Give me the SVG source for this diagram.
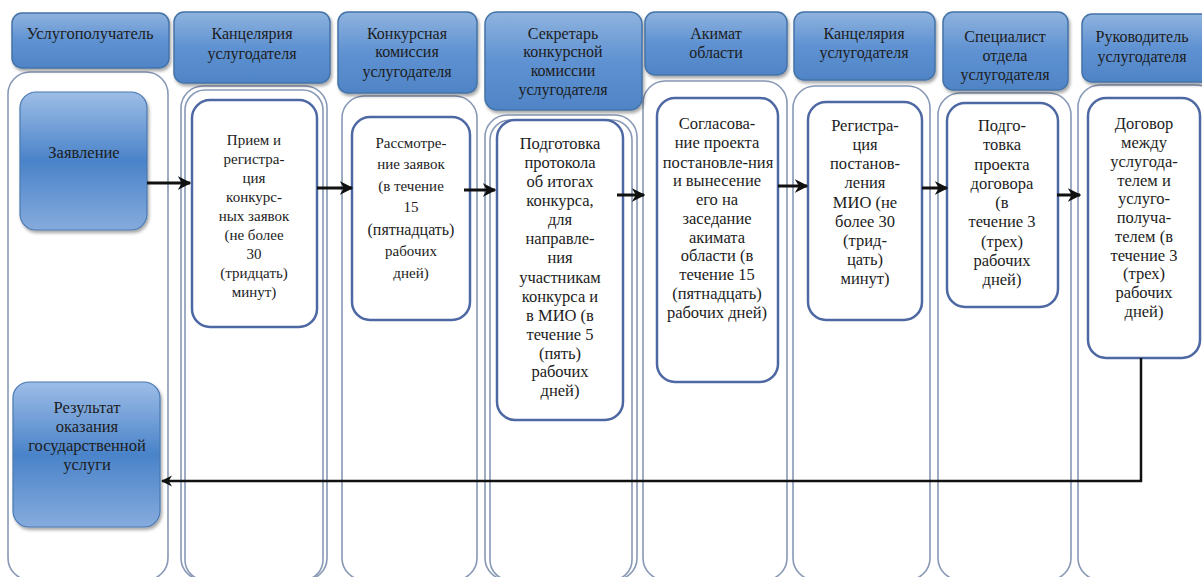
<svg xmlns="http://www.w3.org/2000/svg" width="1202" height="577" viewBox="0 0 1202 577">
<defs>
<linearGradient id="hdr" x1="0" y1="0" x2="0" y2="1">
<stop offset="0" stop-color="#8fb3de"/>
<stop offset="0.5" stop-color="#5f92d2"/>
<stop offset="1" stop-color="#4f84c6"/>
</linearGradient>
<linearGradient id="blk" x1="0" y1="0" x2="0" y2="1">
<stop offset="0" stop-color="#9dbde6"/>
<stop offset="0.5" stop-color="#4a83c9"/>
<stop offset="1" stop-color="#86abdd"/>
</linearGradient>
<filter id="sh" x="-10%" y="-10%" width="125%" height="130%">
<feDropShadow dx="1.5" dy="2.5" stdDeviation="1.5" flood-color="#000" flood-opacity="0.35"/>
</filter>
<marker id="ah" viewBox="0 0 10 10" refX="9" refY="5" markerWidth="4.5" markerHeight="4.5" orient="auto">
<path d="M0,0 L10,5 L0,10 L3,5 z" fill="#111"/>
</marker>
<style>
.hdr{fill:url(#hdr);stroke:#4473a8;stroke-width:1.5;filter:url(#sh)}
.lane{fill:#fff;stroke:#8899b6;stroke-width:1.6}
.box{fill:#fff;stroke:#4e68a3;stroke-width:2.5}
.blk{fill:url(#blk);stroke:#4a78b0;stroke-width:1.2;filter:url(#sh)}
text{font-family:"Liberation Serif","Times New Roman",serif;fill:#1c1c1c;text-anchor:middle;dominant-baseline:central}
.h{font-size:16px}
.b{font-size:16.5px}
.s{font-size:15px}
.t{font-size:16.5px}
.c{stroke:#111;stroke-width:3;fill:none;marker-end:url(#ah)}
</style>
</defs>
<rect width="1202" height="577" fill="#fff"/>

<g id="lanes">
<rect class="lane" x="8" y="72" width="160" height="508" rx="22"/>
<rect class="lane" x="181" y="86" width="146" height="494" rx="22"/>
<rect class="lane" x="185" y="90" width="138" height="490" rx="20"/>
<rect class="lane" x="342" y="96" width="135" height="484" rx="22"/>
<rect class="lane" x="485" y="115" width="152" height="465" rx="22"/>
<rect class="lane" x="490" y="120" width="142" height="460" rx="20"/>
<rect class="lane" x="643" y="81" width="144" height="499" rx="22"/>
<rect class="lane" x="793" y="86" width="137" height="494" rx="22"/>
<rect class="lane" x="938" y="93" width="133" height="487" rx="22"/>
<rect class="lane" x="1078" y="85" width="140" height="495" rx="22"/>
</g>

<g id="h1"><rect class="hdr" x="12" y="13" width="157" height="55" rx="10"/><text class="h" x="90" y="33" style="font-size:16.5px">Услугополучатель</text></g>
<g id="h2"><rect class="hdr" x="174" y="12" width="156" height="71" rx="10"/><text class="h" x="252" y="33">Канцелярия</text><text class="h" x="252" y="53">услугодателя</text></g>
<g id="h3"><rect class="hdr" x="338" y="12" width="139" height="81" rx="10"/><text class="h" x="407" y="33">Конкурсная</text><text class="h" x="407" y="51">комиссия</text><text class="h" x="407" y="71">услугодателя</text></g>
<g id="h4"><rect class="hdr" x="485" y="12" width="157" height="98" rx="12"/><text class="h" x="563" y="33">Секретарь</text><text class="h" x="563" y="51">конкурсной</text><text class="h" x="563" y="70">комиссии</text><text class="h" x="563" y="89">услугодателя</text></g>
<g id="h5"><rect class="hdr" x="645" y="12" width="142" height="63" rx="10"/><text class="h" x="716" y="33">Акимат</text><text class="h" x="716" y="52">области</text></g>
<g id="h6"><rect class="hdr" x="794" y="12" width="141" height="68" rx="10"/><text class="h" x="864" y="33">Канцелярия</text><text class="h" x="864" y="52">услугодателя</text></g>
<g id="h7"><rect class="hdr" x="943" y="12" width="125" height="78" rx="10"/><text class="h" x="1005" y="36">Специалист</text><text class="h" x="1005" y="55">отдела</text><text class="h" x="1005" y="74">услугодателя</text></g>
<g id="h8"><rect class="hdr" x="1082" y="14" width="130" height="68" rx="10"/><text class="h" x="1142" y="36">Руководитель</text><text class="h" x="1142" y="56">услугодателя</text></g>

<g id="n-zayavlenie"><rect class="blk" x="20" y="92" width="127" height="138" rx="16"/><text class="b" x="84" y="152">Заявление</text></g>
<g id="n-rezultat"><rect class="blk" x="13" y="382" width="147" height="145" rx="16"/>
<text class="b" x="87" y="407">Результат</text><text class="b" x="87" y="426">оказания</text><text class="b" x="87" y="445">государственной</text><text class="b" x="87" y="464">услуги</text></g>

<g id="n-priem"><rect class="box" x="192" y="100" width="125" height="227" rx="18"/>
<text class="s" x="254" y="140">Прием и</text><text class="s" x="254" y="159">регистра-</text><text class="s" x="254" y="178">ция</text><text class="s" x="254" y="197">конкурс-</text><text class="s" x="254" y="216">ных заявок</text><text class="s" x="254" y="235">(не более</text><text class="s" x="254" y="254">30</text><text class="s" x="254" y="273">(тридцать)</text><text class="s" x="254" y="292">минут)</text></g>

<g id="n-rassmotrenie"><rect class="box" x="352" y="117" width="118" height="203" rx="18"/>
<text class="s" x="411" y="143">Рассмотре-</text><text class="s" x="411" y="164">ние заявок</text><text class="s" x="411" y="186">(в течение</text><text class="s" x="411" y="207">15</text><text class="s" x="411" y="229" style="font-size:16px">(пятнадцать)</text><text class="s" x="411" y="251">рабочих</text><text class="s" x="411" y="273">дней)</text></g>

<g id="n-protokol"><rect class="box" x="497" y="120" width="126" height="300" rx="18"/>
<text class="t" x="560" y="143">Подготовка</text><text class="t" x="560" y="162">протокола</text><text class="t" x="560" y="181">об итогах</text><text class="t" x="560" y="200">конкурса,</text><text class="t" x="560" y="219">для</text><text class="t" x="560" y="238">направле-</text><text class="t" x="560" y="257">ния</text><text class="t" x="560" y="277">участникам</text><text class="t" x="560" y="296">конкурса и</text><text class="t" x="560" y="315">в МИО (в</text><text class="t" x="560" y="334">течение 5</text><text class="t" x="560" y="353">(пять)</text><text class="t" x="560" y="371">рабочих</text><text class="t" x="560" y="390">дней)</text></g>

<g id="n-soglasovanie"><rect class="box" x="657" y="98" width="121" height="284" rx="18"/>
<text class="t" x="717" y="123">Согласова-</text><text class="t" x="717" y="142">ние проекта</text><text class="t" x="718" y="162">постановле-ния</text><text class="t" x="717" y="180">и вынесение</text><text class="t" x="717" y="199">его на</text><text class="t" x="717" y="218">заседание</text><text class="t" x="717" y="237">акимата</text><text class="t" x="717" y="255">области (в</text><text class="t" x="717" y="274">течение 15</text><text class="t" x="717" y="293">(пятнадцать)</text><text class="t" x="717" y="312">рабочих дней)</text></g>

<g id="n-registraciya"><rect class="box" x="808" y="102" width="114" height="218" rx="18"/>
<text class="t" x="865" y="125">Регистра-</text><text class="t" x="865" y="144">ция</text><text class="t" x="865" y="163">постанов-</text><text class="t" x="865" y="182">ления</text><text class="t" x="865" y="202">МИО (не</text><text class="t" x="865" y="221">более 30</text><text class="t" x="865" y="240">(трид-</text><text class="t" x="865" y="259">цать)</text><text class="t" x="865" y="278">минут)</text></g>

<g id="n-proekt"><rect class="box" x="947" y="103" width="111" height="204" rx="18"/>
<text class="t" x="1002" y="125">Подго-</text><text class="t" x="1002" y="144">товка</text><text class="t" x="1002" y="164">проекта</text><text class="t" x="1002" y="183">договора</text><text class="t" x="1002" y="202">(в</text><text class="t" x="1002" y="221">течение 3</text><text class="t" x="1002" y="241">(трех)</text><text class="t" x="1002" y="260">рабочих</text><text class="t" x="1002" y="279">дней)</text></g>

<g id="n-dogovor"><rect class="box" x="1088" y="98" width="112" height="260" rx="18"/>
<text class="t" x="1144" y="123">Договор</text><text class="t" x="1144" y="142">между</text><text class="t" x="1144" y="161">услугода-</text><text class="t" x="1144" y="180">телем и</text><text class="t" x="1144" y="198">услуго-</text><text class="t" x="1144" y="217">получа-</text><text class="t" x="1144" y="236">телем (в</text><text class="t" x="1144" y="255">течение 3</text><text class="t" x="1144" y="273">(трех)</text><text class="t" x="1144" y="292">рабочих</text><text class="t" x="1144" y="311">дней)</text></g>

<g id="connectors">
<line class="c" x1="147" y1="183" x2="190" y2="183"/>
<line class="c" x1="317" y1="188" x2="352" y2="188"/>
<line class="c" x1="464" y1="190" x2="495" y2="190"/>
<line class="c" x1="617" y1="195" x2="644" y2="195"/>
<line class="c" x1="778" y1="186" x2="807" y2="186"/>
<line class="c" x1="922" y1="188" x2="947" y2="188"/>
<line class="c" x1="1057" y1="195" x2="1080" y2="195"/>
<polyline class="c" style="stroke-width:2.5" points="1141,358 1141,481 162,481"/>
</g>
</svg>
